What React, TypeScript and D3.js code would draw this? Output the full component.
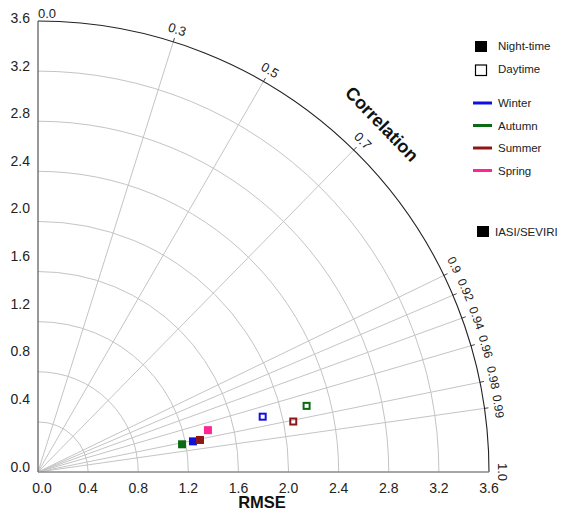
import * as d3 from 'd3';
import { useEffect, useRef } from 'react';

// standard deviation ticks (radial arcs + axis labels)
const stdTicks = [0.0, 0.4, 0.8, 1.2, 1.6, 2.0, 2.4, 2.8, 3.2, 3.6];
const corrTicks = [0.0, 0.3, 0.5, 0.7, 0.9, 0.92, 0.94, 0.96, 0.98, 0.99, 1.0];
// small along-arc nudges of the dense correlation labels, as in the original
const corrLabelShift = [0, 0, 0, 0, -5, 0, 5, 5, -2, 0, 0];

const seasons = ['Winter', 'Autumn', 'Summer', 'Spring'];
const seasonColors = ['#1111dd', '#0b6b12', '#8e1616', '#ff2596'];

// night-time (filled markers)
const nightStd = [1.261, 1.171, 1.318, 1.397];
const nightCorr = [0.981, 0.982, 0.981, 0.971];
// daytime (open markers), no spring value
const dayStd = [1.847, 2.208, 2.077, null];
const dayCorr = [0.971, 0.971, 0.981, null];

const FONT = '"Liberation Sans", Arial, sans-serif';

export default function App() {
    const svgRef = useRef<SVGSVGElement>(null);

    useEffect(() => {
        if (!svgRef.current) return;
        const width = 562;
        const height = 512;
        const ox = 38;
        const oy = 472;
        const R = 451;

        const svg = d3.select(svgRef.current).attr('width', width).attr('height', height);
        svg.selectAll('*').remove();

        const r = d3.scaleLinear().domain([0, 3.6]).range([0, R]);
        // y labels sit slightly above their arcs in the original
        const yLabel = d3.scaleLinear().domain([0, 0.4, 3.6]).range([467, 399, 18]);

        const px = (s: number, c: number) => ox + r(s) * c;
        const py = (s: number, c: number) => oy - r(s) * Math.sqrt(Math.max(0, 1 - c * c));

        const grid = svg.append('g');

        // std arcs
        stdTicks.filter((v) => v > 0 && v < 3.6).forEach((v) => {
            const p = d3.path();
            p.moveTo(ox, oy - r(v));
            p.arc(ox, oy, r(v), -Math.PI / 2, 0);
            grid.append('path').attr('d', p.toString()).attr('fill', 'none').attr('stroke', '#c4c4c4').attr('stroke-width', 1);
        });

        // correlation rays
        corrTicks.filter((c) => c > 0 && c < 1).forEach((c) => {
            grid.append('line')
                .attr('x1', ox).attr('y1', oy)
                .attr('x2', px(3.6, c)).attr('y2', py(3.6, c))
                .attr('stroke', '#c4c4c4').attr('stroke-width', 1);
            grid.append('line')
                .attr('x1', px(3.6, c)).attr('y1', py(3.6, c))
                .attr('x2', ox + (R + 4) * c).attr('y2', oy - (R + 4) * Math.sqrt(1 - c * c))
                .attr('stroke', '#444').attr('stroke-width', 1);
        });

        // outer arc
        const outer = d3.path();
        outer.moveTo(ox, oy - R);
        outer.arc(ox, oy, R, -Math.PI / 2, 0);
        svg.append('path').attr('d', outer.toString()).attr('fill', 'none').attr('stroke', '#222').attr('stroke-width', 1.1);

        // axes
        svg.append('line').attr('x1', ox).attr('y1', oy).attr('x2', ox).attr('y2', oy - R).attr('stroke', '#555').attr('stroke-width', 1.2);
        svg.append('line').attr('x1', ox).attr('y1', oy).attr('x2', ox + R).attr('y2', oy).attr('stroke', '#8a8a8a').attr('stroke-width', 1.5);

        // y labels
        svg.append('g')
            .selectAll('text')
            .data(stdTicks)
            .join('text')
            .attr('x', 30)
            .attr('y', (d) => yLabel(d))
            .attr('dy', '0.35em')
            .attr('text-anchor', 'end')
            .attr('font-family', FONT)
            .attr('font-size', 14)
            .attr('fill', '#222')
            .text((d) => d.toFixed(1));

        // x labels
        svg.append('g')
            .selectAll('text')
            .data(stdTicks)
            .join('text')
            .attr('x', (d) => ox + r(d) + (d === 0 ? 4 : 0))
            .attr('y', 493)
            .attr('text-anchor', 'middle')
            .attr('font-family', FONT)
            .attr('font-size', 14)
            .attr('fill', '#222')
            .text((d) => d.toFixed(1));

        svg.append('text')
            .attr('x', 262).attr('y', 508)
            .attr('text-anchor', 'middle')
            .attr('font-family', FONT).attr('font-size', 16.5).attr('font-weight', 'bold')
            .attr('fill', '#111')
            .text('RMSE');

        // correlation labels
        corrTicks.forEach((c, i) => {
            const off = c === 0 ? 8 : c >= 0.9 ? 14 : 13;
            const x = ox + (R + off) * c;
            const y = oy - (R + off) * Math.sqrt(1 - c * c);
            const rot = 90 - (Math.acos(c) * 180) / Math.PI;
            svg.append('text')
                .attr('transform', `translate(${x},${y}) rotate(${rot})`)
                .attr('text-anchor', c === 0 ? 'start' : 'middle')
                .attr('dx', corrLabelShift[i])
                .attr('dy', '0.35em')
                .attr('font-family', FONT).attr('font-size', c >= 0.9 && c < 1 ? 12 : 13)
                .attr('fill', '#222')
                .text(c === 0 || c === 1 ? c.toFixed(1) : String(c));
        });

        svg.append('text')
            .attr('transform', 'translate(382,124) rotate(46)')
            .attr('text-anchor', 'middle')
            .attr('dy', '0.35em')
            .attr('font-family', FONT).attr('font-size', 18).attr('font-weight', 'bold')
            .attr('fill', '#111')
            .text('Correlation');

        // markers
        const size = 8;
        const marks = svg.append('g');
        seasons.forEach((_, i) => {
            const s = dayStd[i];
            const c = dayCorr[i];
            if (s == null || c == null) return;
            marks.append('rect')
                .attr('x', px(s, c) - size / 2 + 1).attr('y', py(s, c) - size / 2 + 1)
                .attr('width', size - 2).attr('height', size - 2)
                .attr('fill', 'none').attr('stroke', seasonColors[i]).attr('stroke-width', 2);
        });
        seasons.forEach((_, i) => {
            marks.append('rect')
                .attr('x', px(nightStd[i], nightCorr[i]) - size / 2).attr('y', py(nightStd[i], nightCorr[i]) - size / 2)
                .attr('width', size).attr('height', size)
                .attr('fill', seasonColors[i]);
        });

        // legend
        const lg = svg.append('g').attr('font-family', FONT).attr('font-size', 11.5).attr('fill', '#222');
        lg.append('rect').attr('x', 475).attr('y', 41).attr('width', 12).attr('height', 11).attr('fill', '#000');
        lg.append('text').attr('x', 498).attr('y', 46).attr('dy', '0.35em').text('Night-time');
        lg.append('rect').attr('x', 475.5).attr('y', 65).attr('width', 11).attr('height', 10.5).attr('fill', 'none').attr('stroke', '#000').attr('stroke-width', 1.2);
        lg.append('text').attr('x', 498).attr('y', 69).attr('dy', '0.35em').text('Daytime');

        const legendY = d3.scalePoint<string>().domain(seasons).range([103, 170.5]);
        seasons.forEach((sn, i) => {
            lg.append('line')
                .attr('x1', 473).attr('x2', 492)
                .attr('y1', legendY(sn)!).attr('y2', legendY(sn)!)
                .attr('stroke', seasonColors[i]).attr('stroke-width', 3);
            lg.append('text').attr('x', 498).attr('y', legendY(sn)!).attr('dy', '0.35em').text(sn);
        });

        lg.append('rect').attr('x', 477).attr('y', 226).attr('width', 12).attr('height', 11).attr('fill', '#000');
        lg.append('text').attr('x', 495).attr('y', 232).attr('dy', '0.35em').text('IASI/SEVIRI');
    }, []);

    return <svg ref={svgRef} style={{ position: 'absolute', left: 0, top: 0, background: '#fff' }} />;
}
